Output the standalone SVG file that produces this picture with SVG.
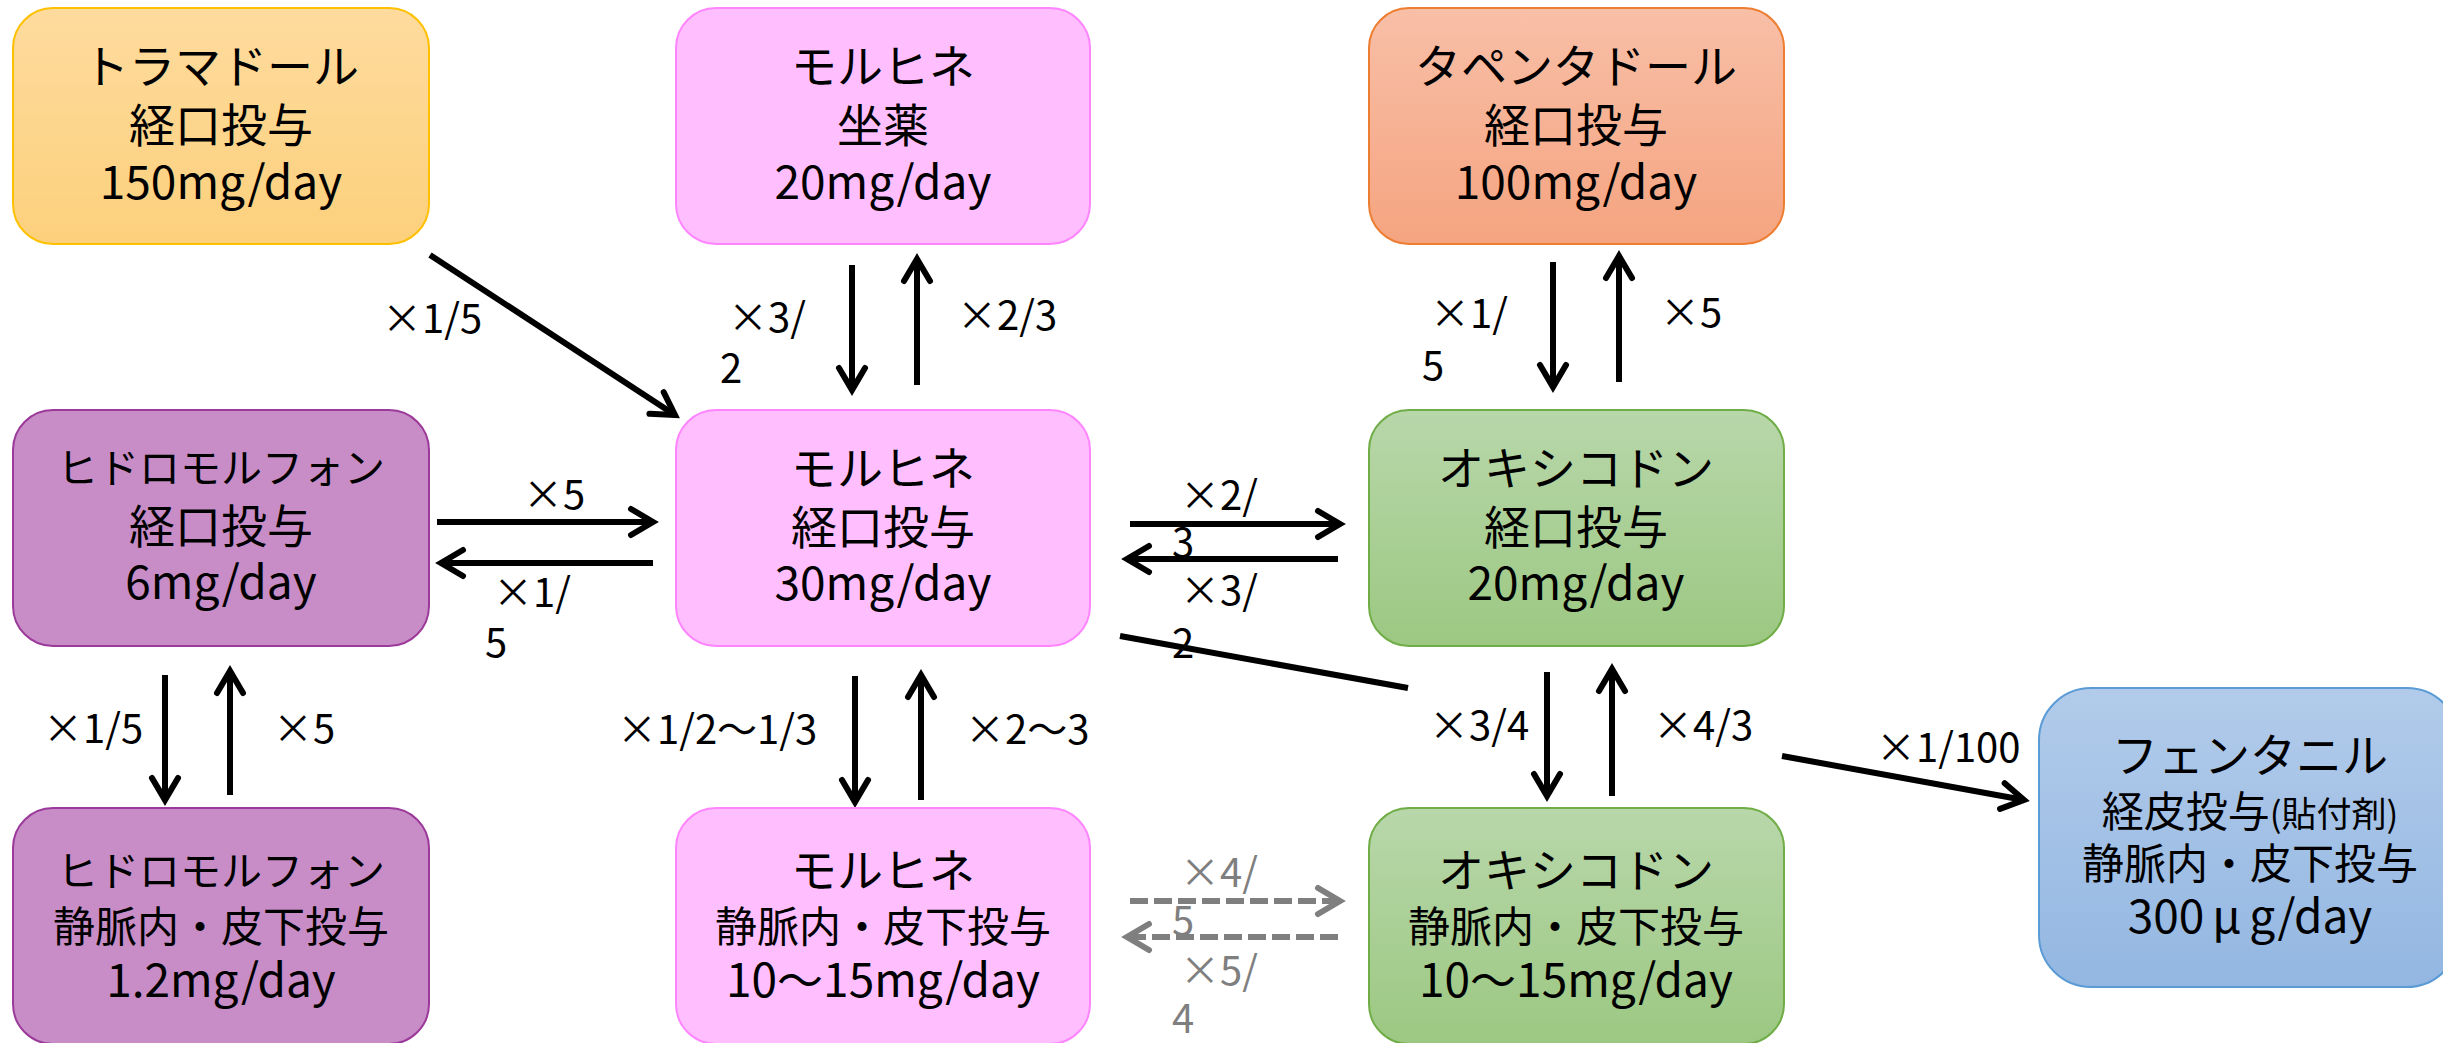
<svg xmlns="http://www.w3.org/2000/svg" width="2443" height="1043" viewBox="0 0 2443 1043">
<style>
text{font-family:"Noto Sans CJK JP","Noto Sans",sans-serif;fill:#000}
.n{font-size:46px;text-anchor:middle}
.s{font-size:41px}
.m{font-size:42px}
.lb{font-size:40px}
.gr{fill:#7f7f7f}
.c{stroke:#000;stroke-width:6;fill:none}
.d{stroke:#7f7f7f;stroke-width:6;fill:none;stroke-dasharray:18 6}
</style>
<defs>
<marker id="ah" markerUnits="userSpaceOnUse" viewBox="-30 -18 34 36" refX="0" refY="0" markerWidth="34" markerHeight="36" orient="auto" overflow="visible">
<path d="M-22,-13 L0,0 L-22,13" fill="none" stroke="#000" stroke-width="6" stroke-linecap="round"/>
</marker>
<marker id="ahg" markerUnits="userSpaceOnUse" viewBox="-30 -18 34 36" refX="0" refY="0" markerWidth="34" markerHeight="36" orient="auto" overflow="visible">
<path d="M-22,-13 L0,0 L-22,13" fill="none" stroke="#7f7f7f" stroke-width="6" stroke-linecap="round"/>
</marker>
<linearGradient id="gT" x1="0" y1="0" x2="0" y2="1"><stop offset="0" stop-color="#FEDB9E"/><stop offset="1" stop-color="#FCD07C"/></linearGradient>
<linearGradient id="gP" x1="0" y1="0" x2="0" y2="1"><stop offset="0" stop-color="#F8BFA7"/><stop offset="1" stop-color="#F5A480"/></linearGradient>
<linearGradient id="gO" x1="0" y1="0" x2="0" y2="1"><stop offset="0" stop-color="#B8D7AA"/><stop offset="1" stop-color="#9CC882"/></linearGradient>
<linearGradient id="gF" x1="0" y1="0" x2="0" y2="1"><stop offset="0" stop-color="#B2CBEA"/><stop offset="1" stop-color="#93B7E2"/></linearGradient>
</defs>
<rect width="2443" height="1043" fill="#fff"/>

<g id="connectors">
<line class="c" x1="430" y1="255" x2="675" y2="415" marker-end="url(#ah)"/>
<line class="c" x1="852" y1="265" x2="852" y2="390" marker-end="url(#ah)"/>
<line class="c" x1="917" y1="385" x2="917" y2="259" marker-end="url(#ah)"/>
<line class="c" x1="1553" y1="262" x2="1553" y2="387" marker-end="url(#ah)"/>
<line class="c" x1="1619" y1="382" x2="1619" y2="256" marker-end="url(#ah)"/>
<line class="c" x1="437" y1="522" x2="653" y2="522" marker-end="url(#ah)"/>
<line class="c" x1="653" y1="563" x2="441" y2="563" marker-end="url(#ah)"/>
<line class="c" x1="1130" y1="524" x2="1340" y2="524" marker-end="url(#ah)"/>
<line class="c" x1="1338" y1="559" x2="1127" y2="559" marker-end="url(#ah)"/>
<line class="c" x1="165" y1="675" x2="165" y2="800" marker-end="url(#ah)"/>
<line class="c" x1="230" y1="795" x2="230" y2="671" marker-end="url(#ah)"/>
<line class="c" x1="855" y1="676" x2="855" y2="802" marker-end="url(#ah)"/>
<line class="c" x1="921" y1="800" x2="921" y2="675" marker-end="url(#ah)"/>
<line class="c" x1="1547" y1="672" x2="1547" y2="796" marker-end="url(#ah)"/>
<line class="c" x1="1612" y1="796" x2="1612" y2="669" marker-end="url(#ah)"/>
<path class="c" d="M1120,636 L1408,688 M1782,756 L2024,800" marker-end="url(#ah)"/>
<line class="d" x1="1130" y1="901" x2="1340" y2="901" marker-end="url(#ahg)"/>
<line class="d" x1="1338" y1="937" x2="1127" y2="937" marker-end="url(#ahg)"/>
</g>

<g id="tramadol">
<rect x="13" y="8" width="416" height="236" rx="40" fill="url(#gT)" stroke="#FFC000" stroke-width="2"/>
<text class="n" x="221" y="83">トラマドール</text>
<text class="n" x="221" y="142">経口投与</text>
<text class="n" x="221" y="199">150mg/day</text>
</g>
<g id="morphine-supp">
<rect x="676" y="8" width="414" height="236" rx="40" fill="#FFBFFF" stroke="#FF85FF" stroke-width="2"/>
<text class="n" x="883" y="83">モルヒネ</text>
<text class="n" x="883" y="142">坐薬</text>
<text class="n" x="883" y="199">20mg/day</text>
</g>
<g id="tapentadol">
<rect x="1369" y="8" width="415" height="236" rx="40" fill="url(#gP)" stroke="#ED7D31" stroke-width="2"/>
<text class="n" x="1576" y="83">タペンタドール</text>
<text class="n" x="1576" y="142">経口投与</text>
<text class="n" x="1576" y="199">100mg/day</text>
</g>
<g id="hydromorphone-oral">
<rect x="13" y="410" width="416" height="236" rx="40" fill="#C88DC7" stroke="#9B3A9B" stroke-width="2"/>
<text class="n s" x="221" y="483">ヒドロモルフォン</text>
<text class="n" x="221" y="543">経口投与</text>
<text class="n" x="221" y="599">6mg/day</text>
</g>
<g id="morphine-oral">
<rect x="676" y="410" width="414" height="236" rx="40" fill="#FFBFFF" stroke="#FF85FF" stroke-width="2"/>
<text class="n" x="883" y="485">モルヒネ</text>
<text class="n" x="883" y="544">経口投与</text>
<text class="n" x="883" y="600">30mg/day</text>
</g>
<g id="oxycodone-oral">
<rect x="1369" y="410" width="415" height="236" rx="40" fill="url(#gO)" stroke="#70AD47" stroke-width="2"/>
<text class="n" x="1576" y="485">オキシコドン</text>
<text class="n" x="1576" y="544">経口投与</text>
<text class="n" x="1576" y="600">20mg/day</text>
</g>
<g id="hydromorphone-iv">
<rect x="13" y="808" width="416" height="236" rx="40" fill="#C88DC7" stroke="#9B3A9B" stroke-width="2"/>
<text class="n s" x="221" y="886">ヒドロモルフォン</text>
<text class="n m" x="221" y="942">静脈内・皮下投与</text>
<text class="n" x="221" y="997">1.2mg/day</text>
</g>
<g id="morphine-iv">
<rect x="676" y="808" width="414" height="236" rx="40" fill="#FFBFFF" stroke="#FF85FF" stroke-width="2"/>
<text class="n" x="883" y="887">モルヒネ</text>
<text class="n m" x="883" y="942">静脈内・皮下投与</text>
<text class="n" x="883" y="997">10〜15mg/day</text>
</g>
<g id="oxycodone-iv">
<rect x="1369" y="808" width="415" height="236" rx="40" fill="url(#gO)" stroke="#70AD47" stroke-width="2"/>
<text class="n" x="1576" y="887">オキシコドン</text>
<text class="n m" x="1576" y="942">静脈内・皮下投与</text>
<text class="n" x="1576" y="997">10〜15mg/day</text>
</g>
<g id="fentanyl">
<rect x="2039" y="688" width="420" height="299" rx="52" fill="url(#gF)" stroke="#5B9BD5" stroke-width="2"/>
<text class="n" x="2250" y="772">フェンタニル</text>
<text class="n" x="2250" y="827"><tspan font-size="42">経皮投与</tspan><tspan font-size="35">(貼付剤)</tspan></text>
<text class="n m" x="2250" y="879">静脈内・皮下投与</text>
<text class="n" x="2250" y="933">300<tspan dx="8">μ</tspan><tspan dx="8">g/day</tspan></text>
</g>

<g id="labels">
<text class="lb" x="382" y="333">×1/5</text>
<text class="lb" x="728" y="332">×3/</text>
<text class="lb" x="720" y="383">2</text>
<text class="lb" x="957" y="330">×2/3</text>
<text class="lb" x="1430" y="328">×1/</text>
<text class="lb" x="1422" y="380">5</text>
<text class="lb" x="1660" y="327">×5</text>
<text class="lb" x="523" y="509">×5</text>
<text class="lb" x="493" y="607">×1/</text>
<text class="lb" x="485" y="657">5</text>
<text class="lb" x="1180" y="510">×2/</text>
<text class="lb" x="1172" y="557">3</text>
<text class="lb" x="1180" y="605">×3/</text>
<text class="lb" x="1172" y="658">2</text>
<text class="lb" x="43" y="743">×1/5</text>
<text class="lb" x="273" y="743">×5</text>
<text class="lb" x="617" y="744">×1/2〜1/3</text>
<text class="lb" x="965" y="744">×2〜3</text>
<text class="lb" x="1429" y="740">×3/4</text>
<text class="lb" x="1653" y="740">×4/3</text>
<text class="lb" x="1876" y="762">×1/100</text>
<text class="lb gr" x="1180" y="887">×4/</text>
<text class="lb gr" x="1172" y="935">5</text>
<text class="lb gr" x="1180" y="985">×5/</text>
<text class="lb gr" x="1172" y="1033">4</text>
</g>
</svg>
